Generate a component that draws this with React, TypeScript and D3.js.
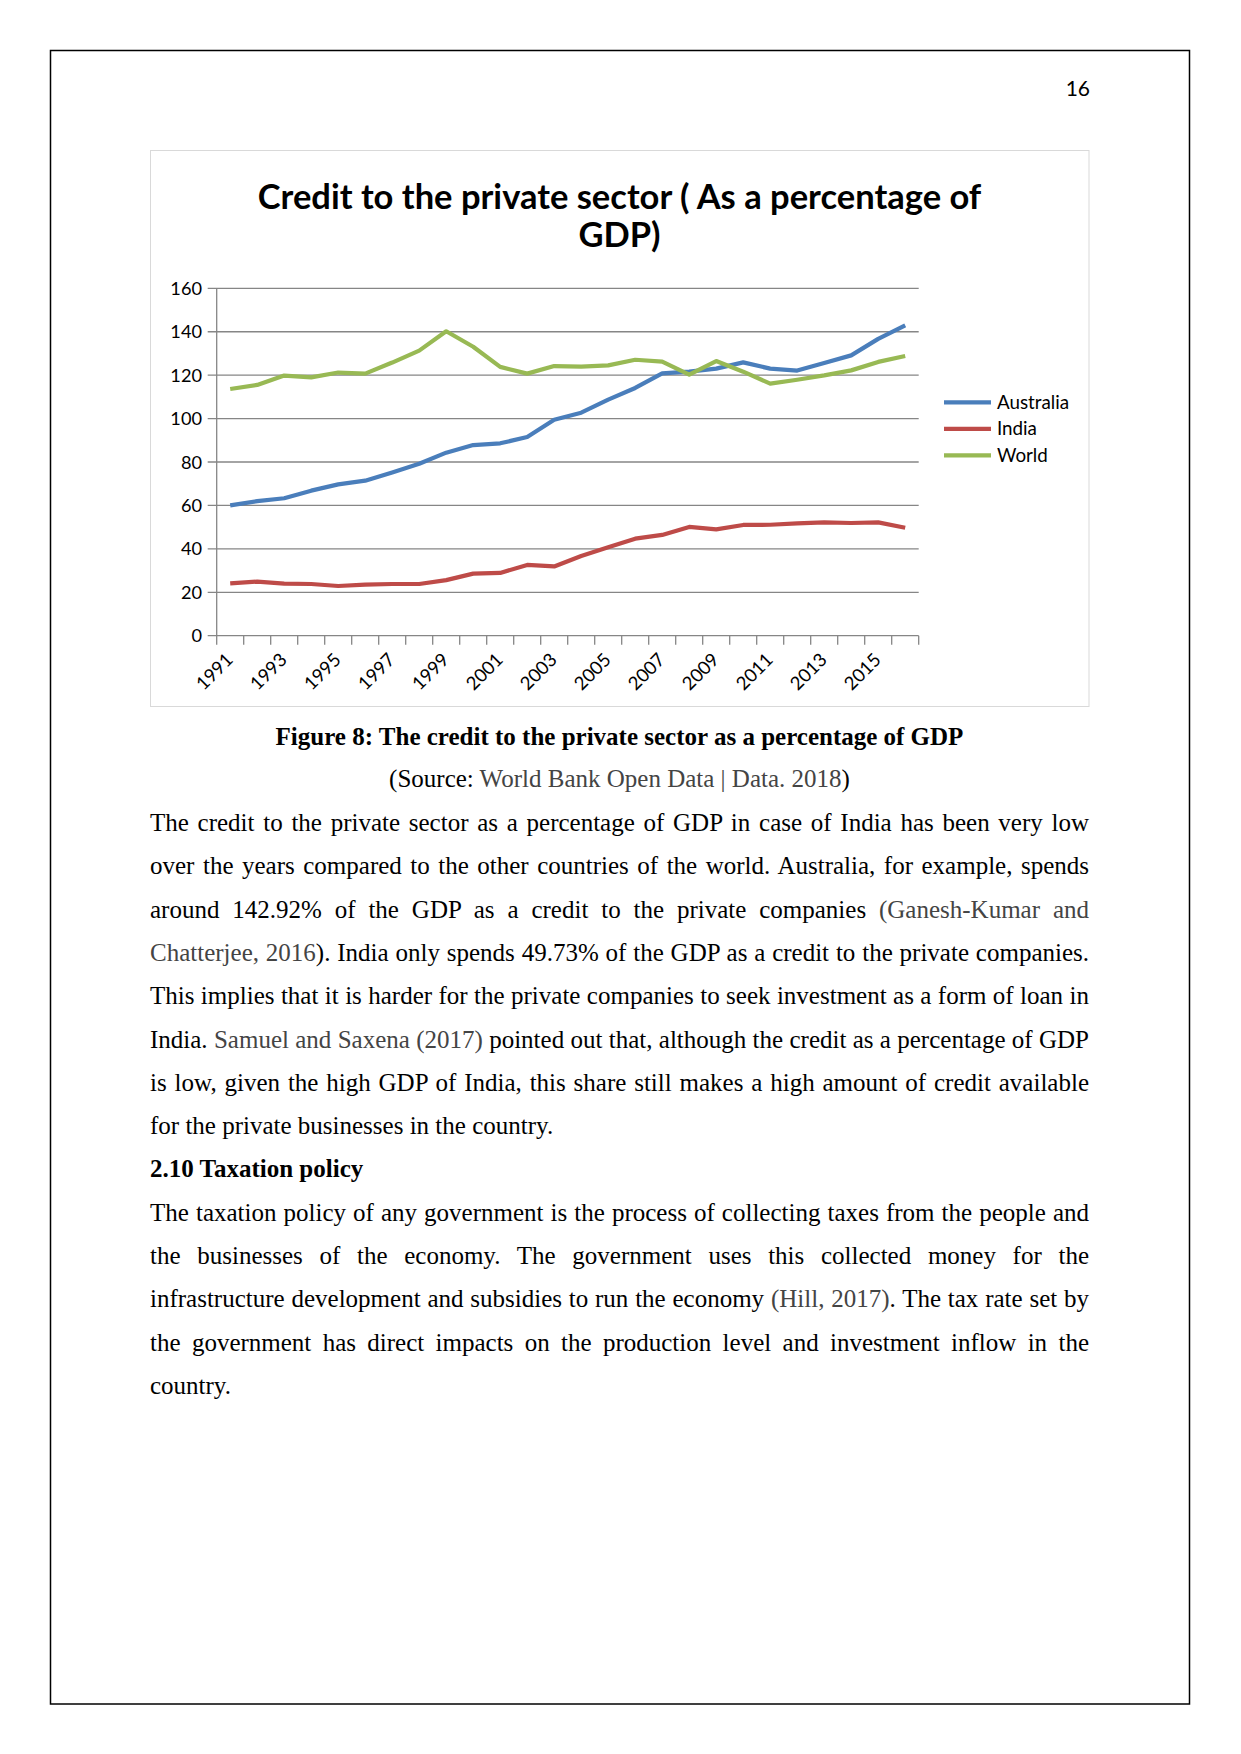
import React, { useEffect, useLayoutEffect, useRef, useState } from "react";
import * as d3 from "d3";

const years = d3.range(1991, 2017);
const tickYears = [1991, 1993, 1995, 1997, 1999, 2001, 2003, 2005, 2007, 2009, 2011, 2013, 2015];
const yTicks = [0, 20, 40, 60, 80, 100, 120, 140, 160];

const australia = [60.0, 62.0, 63.3, 66.8, 69.7, 71.4, 75.2, 79.2, 84.3, 87.8, 88.6, 91.5, 99.5, 102.7, 108.7, 114.1, 120.8, 121.6, 123.0, 125.9, 123.0, 122.1, 125.6, 129.1, 136.7, 142.9];
const india = [24.1, 24.9, 24.0, 23.8, 22.9, 23.5, 23.8, 23.8, 25.6, 28.6, 28.9, 32.6, 31.9, 36.7, 40.7, 44.7, 46.4, 50.1, 49.0, 51.0, 51.1, 51.7, 52.2, 51.9, 52.2, 49.7];
const world = [113.6, 115.5, 119.8, 119.0, 121.2, 120.7, 125.8, 131.3, 140.2, 133.1, 123.8, 120.7, 124.2, 123.9, 124.5, 127.1, 126.2, 120.2, 126.5, 121.6, 116.1, 117.9, 119.9, 122.2, 126.1, 128.8];

const seriesNames = ["Australia", "India", "World"];
const seriesColors = ["#4A7EBB", "#BE4B48", "#98B954"];
const seriesValues = [australia, india, world];

const titleLines = ["Credit to the private sector ( As a percentage of", "GDP)"];
const caption = "Figure 8: The credit to the private sector as a percentage of GDP";

type Seg = [string, boolean];
const bodyLines: { segs: Seg[]; justify: boolean; bold?: boolean }[] = [
  { segs: [["The credit to the private sector as a percentage of GDP in case of India has been very low", false]], justify: true },
  { segs: [["over the years compared to the other countries of the world. Australia, for example, spends", false]], justify: true },
  { segs: [["around 142.92% of the GDP as a credit to the private companies ", false], ["(Ganesh-Kumar and", true]], justify: true },
  { segs: [["Chatterjee, 2016", true], ["). India only spends 49.73% of the GDP as a credit to the private companies.", false]], justify: true },
  { segs: [["This implies that it is harder for the private companies to seek investment as a form of loan in", false]], justify: true },
  { segs: [["India. ", false], ["Samuel and Saxena (2017)", true], [" pointed out that, although the credit as a percentage of GDP", false]], justify: true },
  { segs: [["is low, given the high GDP of India, this share still makes a high amount of credit available", false]], justify: true },
  { segs: [["for the private businesses in the country.", false]], justify: false },
  { segs: [["2.10 Taxation policy", false]], justify: false, bold: true },
  { segs: [["The taxation policy of any government is the process of collecting taxes from the people and", false]], justify: true },
  { segs: [["the businesses of the economy. The government uses this collected money for the", false]], justify: true },
  { segs: [["infrastructure development and subsidies to run the economy ", false], ["(Hill, 2017)", true], [". The tax rate set by", false]], justify: true },
  { segs: [["the government has direct impacts on the production level and investment inflow in the", false]], justify: true },
  { segs: [["country.", false]], justify: false },
];

const GRAY = "#444444";
const SERIF = "'Liberation Serif', 'Times New Roman', serif";
const SANS = "Lato, Carlito, Calibri, sans-serif";

function JLine({ x, y, width, justify, bold, segs, tick }: any) {
  const ref = useRef<SVGTextElement>(null);
  useLayoutEffect(() => {
    const el = ref.current;
    if (!el) return;
    el.style.wordSpacing = "0px";
    if (!justify) return;
    const w = el.getComputedTextLength();
    const text = el.textContent || "";
    const n = (text.match(/ /g) || []).length;
    if (n > 0) el.style.wordSpacing = (width - w) / n + "px";
  }, [tick, justify, width]);
  return (
    <text ref={ref} x={x} y={y} fontFamily={SERIF} fontSize={25} fontWeight={bold ? "bold" : "normal"} fill="#000" style={{ whiteSpace: "pre" }}>
      {segs.map((s: Seg, i: number) => (
        <tspan key={i} fill={s[1] ? GRAY : "#000"}>{s[0]}</tspan>
      ))}
    </text>
  );
}

export default function App() {
  const [tick, setTick] = useState(0);
  useEffect(() => {
    (document as any).fonts?.ready?.then(() => setTick((t) => t + 1));
    const id = setTimeout(() => setTick((t) => t + 1), 300);
    return () => clearTimeout(id);
  }, []);

  const W = 1241, H = 1754;
  const plotL = 216.7, plotR = 918.7, plotT = 288.3, plotB = 635.7;

  const x = d3.scaleBand<number>().domain(years).range([plotL, plotR]);
  const y = d3.scaleLinear().domain([0, 160]).range([plotB, plotT]);
  const line = d3
    .line<number>()
    .x((_, i) => (x(years[i]) as number) + x.bandwidth() / 2)
    .y((d) => y(d));

  const boundaries = d3.range(years.length + 1).map((i) => plotL + i * x.step());

  const bodyX = 150, bodyW = 939;
  const bodyY0 = 831, lineH = 43.3;

  return (
    <div style={{ position: "absolute", left: 0, top: 0, width: W, height: H, background: "#fff" }}>
      <svg width={W} height={H} viewBox={`0 0 ${W} ${H}`} style={{ display: "block" }}>
        <rect x={0} y={0} width={W} height={H} fill="#fff" />
        {/* page border */}
        <rect x={50.5} y={50.5} width={1139} height={1653.5} fill="none" stroke="#000" strokeWidth={1.5} />
        {/* page number */}
        <text x={1090} y={96} textAnchor="end" fontFamily={SANS} fontSize={21} fill="#000">16</text>

        {/* chart frame */}
        <rect x={150.5} y={150.5} width={938.5} height={556} fill="#fff" stroke="#D9D9D9" strokeWidth={1} />

        {/* title */}
        {titleLines.map((t, i) => (
          <text key={i} x={619.5} y={209 + i * 38} textAnchor="middle" fontFamily={SANS} fontWeight="bold" fontSize={34.5} fill="#000">
            {t}
          </text>
        ))}

        {/* gridlines */}
        {yTicks.map((v) => (
          <g key={v}>
            <line x1={plotL - 9} x2={plotR} y1={y(v)} y2={y(v)} stroke="#868686" strokeWidth={1.3} />
            <text x={202} y={y(v) + 6.5} textAnchor="end" fontFamily={SANS} fontSize={18.2} fill="#000">{v}</text>
          </g>
        ))}
        {/* y axis */}
        <line x1={plotL} x2={plotL} y1={plotT} y2={plotB} stroke="#868686" strokeWidth={1.3} />
        {/* x axis ticks */}
        {boundaries.map((bx, i) => (
          <line key={i} x1={bx} x2={bx} y1={plotB} y2={plotB + 9} stroke="#868686" strokeWidth={1.3} />
        ))}
        {tickYears.map((yr) => {
          const cx = (x(yr) as number) + x.bandwidth() / 2 + 4;
          const cy = 661;
          return (
            <text key={yr} x={cx} y={cy} textAnchor="end" fontFamily={SANS} fontSize={18.5} fill="#000" transform={`rotate(-45 ${cx} ${cy})`}>
              {yr}
            </text>
          );
        })}

        {/* series */}
        {seriesValues.map((vals, i) => (
          <path key={i} d={line(vals) || ""} fill="none" stroke={seriesColors[i]} strokeWidth={4.2} strokeLinejoin="round" strokeLinecap="butt" />
        ))}

        {/* legend */}
        {seriesNames.map((n, i) => (
          <g key={n}>
            <line x1={944} x2={991} y1={402.3 + i * 26.5} y2={402.3 + i * 26.5} stroke={seriesColors[i]} strokeWidth={4.2} />
            <text x={997} y={402.3 + i * 26.5 + 6.5} fontFamily={SANS} fontSize={18.8} fill="#000">{n}</text>
          </g>
        ))}

        {/* caption */}
        <text x={619.5} y={745} textAnchor="middle" fontFamily={SERIF} fontWeight="bold" fontSize={25} fill="#000">{caption}</text>
        <text x={619.5} y={787} textAnchor="middle" fontFamily={SERIF} fontSize={25} fill="#000">
          <tspan>(Source: </tspan>
          <tspan fill={GRAY}>World Bank Open Data | Data. 2018</tspan>
          <tspan>)</tspan>
        </text>

        {/* body text */}
        {bodyLines.map((l, i) => (
          <JLine key={i} x={bodyX} y={bodyY0 + i * lineH} width={bodyW} justify={l.justify} bold={l.bold} segs={l.segs} tick={tick} />
        ))}
      </svg>
    </div>
  );
}
